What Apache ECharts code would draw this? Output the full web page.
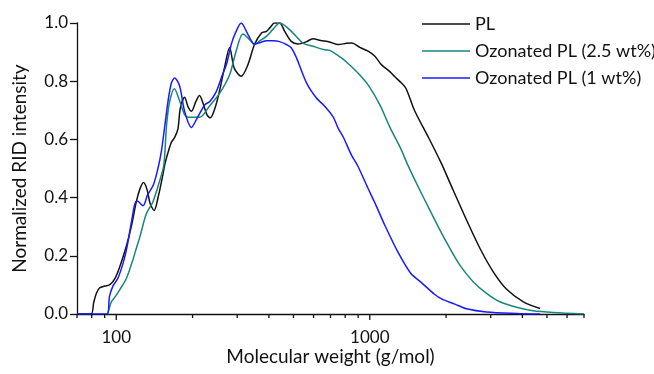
<!DOCTYPE html>
<html>
<head>
<meta charset="utf-8">
<script src="https://cdn.jsdelivr.net/npm/echarts@6/dist/echarts.min.js"></script>
<style>
  html, body { margin: 0; padding: 0; background: #ffffff; }
  #chart { width: 654px; height: 374px; }
</style>
</head>
<body>
<div id="chart"></div>
<script>
// Molecular weight distributions (RID detector), normalized to the maximum.
const plMw = [70, 79.5, 81.5, 83.5, 86, 90, 94, 98.5, 103, 109.5, 114.6, 120, 124, 128, 132, 136, 141, 147, 152, 156, 160, 165, 170, 175, 179, 186, 192, 198, 206, 213, 220, 228, 235, 245, 256, 267, 280, 292, 311, 330, 351, 374, 391, 405, 421, 441, 462, 490, 521, 560, 597, 640, 695, 750, 810, 850, 914, 985, 1050, 1111, 1200, 1256, 1330, 1390, 1500, 1690, 1910, 2132, 2408, 2719, 3070, 3467, 4034, 4700];
const plIntensity = [0, 0, 0.04, 0.071, 0.09, 0.096, 0.1, 0.12, 0.16, 0.232, 0.30, 0.386, 0.43, 0.452, 0.43, 0.38, 0.356, 0.41, 0.47, 0.52, 0.555, 0.59, 0.607, 0.635, 0.708, 0.745, 0.712, 0.697, 0.73, 0.751, 0.724, 0.684, 0.674, 0.707, 0.77, 0.845, 0.916, 0.845, 0.817, 0.855, 0.926, 0.966, 0.971, 0.985, 1.0, 1.0, 0.971, 0.937, 0.928, 0.935, 0.946, 0.94, 0.935, 0.926, 0.93, 0.931, 0.916, 0.903, 0.885, 0.857, 0.833, 0.815, 0.795, 0.775, 0.70, 0.613, 0.52, 0.426, 0.323, 0.226, 0.145, 0.085, 0.042, 0.019];

const oz25Mw = [92.5, 95.6, 97.2, 100, 103, 109.7, 116.3, 120, 124, 131.5, 139.6, 148, 154, 158, 162.5, 169.5, 178, 186, 192, 200, 213, 233, 256, 280, 297, 316, 336, 351, 370, 391, 415, 441, 483, 545, 597, 664, 695, 773, 836, 914, 1000, 1100, 1200, 1314, 1416, 1575, 1726, 1890, 2069, 2266, 2557, 2888, 3260, 3795, 4415, 5295, 7000];
const oz25Intensity = [0, 0.042, 0.05, 0.065, 0.082, 0.123, 0.186, 0.226, 0.266, 0.345, 0.386, 0.455, 0.512, 0.651, 0.731, 0.774, 0.731, 0.685, 0.676, 0.676, 0.676, 0.714, 0.759, 0.822, 0.903, 0.962, 0.943, 0.926, 0.94, 0.954, 0.978, 1.0, 0.977, 0.931, 0.92, 0.908, 0.906, 0.88, 0.855, 0.821, 0.779, 0.716, 0.642, 0.575, 0.51, 0.426, 0.357, 0.289, 0.226, 0.168, 0.111, 0.071, 0.042, 0.023, 0.011, 0.005, 0];

const oz1Mw = [70, 92, 94, 97, 101.5, 106.3, 110, 115.7, 118.5, 121, 127.5, 133, 140, 146, 150.7, 155, 160, 165, 170, 178, 186, 198, 207, 224, 234, 248, 262, 272, 285, 297, 311, 331, 351, 370, 391, 416, 441, 469, 490, 514, 563, 616, 664, 716, 750, 785, 847, 899, 984, 1050, 1145, 1289, 1450, 1599, 1800, 1919, 2167, 2408, 2888, 3795, 4700];
const oz1Intensity = [0, 0, 0.06, 0.096, 0.123, 0.174, 0.226, 0.334, 0.38, 0.388, 0.372, 0.41, 0.443, 0.5, 0.56, 0.639, 0.731, 0.794, 0.811, 0.782, 0.697, 0.641, 0.668, 0.72, 0.73, 0.764, 0.821, 0.857, 0.93, 0.971, 1.0, 0.96, 0.928, 0.933, 0.939, 0.939, 0.936, 0.926, 0.915, 0.88, 0.794, 0.742, 0.714, 0.678, 0.639, 0.609, 0.546, 0.507, 0.432, 0.38, 0.306, 0.214, 0.14, 0.108, 0.068, 0.052, 0.034, 0.018, 0.007, 0.002, 0];

const seriesNames = ['PL', 'Ozonated PL (2.5 wt%)', 'Ozonated PL (1 wt%)'];
const seriesColors = ['#111111', '#19857f', '#1a1aff'];

// x-axis tick values: decades get a label, the 2..9 multiples only a short tick
const xMajorTicks = [100, 1000];
const xMinorTicks = [70, 80, 90, 200, 300, 400, 500, 600, 700, 800, 900, 2000, 3000, 4000, 5000, 6000, 7000];

const FONT = 'Lato';
const AXIS_COLOR = '#111';
const zip = (xs, ys) => xs.map((x, i) => [x, ys[i]]);

const chart = echarts.init(document.getElementById('chart'), null, { renderer: 'canvas' });

const lineSeries = (name, data, color) => ({
  name: name,
  type: 'line',
  data: data,
  smooth: 0.3,
  symbol: 'none',
  showSymbol: false,
  lineStyle: { color: color, width: 1.5 },
  itemStyle: { color: color },
  emphasis: { disabled: true }
});

// log-axis tick marks, placed through the axis scale
const tickData = xMinorTicks.map(v => [v, 0]).concat(xMajorTicks.map(v => [v, 1]));
const tickSeries = {
  type: 'custom',
  silent: true,
  clip: false,
  z: 5,
  data: tickData,
  renderItem: (params, api) => {
    const p = api.coord([api.value(0), 0]);
    const len = api.value(1) ? 6 : 4;
    return {
      type: 'line',
      shape: { x1: p[0], y1: p[1], x2: p[0], y2: p[1] + len },
      style: { stroke: AXIS_COLOR, lineWidth: 1.3 }
    };
  }
};

chart.setOption({
  animation: false,
  backgroundColor: '#ffffff',
  grid: { left: 77, right: 70, top: 23, bottom: 60 },
  legend: {
    orient: 'vertical',
    left: 422,
    top: 15,
    padding: 0,
    icon: 'rect',
    itemWidth: 48,
    itemHeight: 1.6,
    itemGap: 9,
    textStyle: { fontFamily: FONT, fontSize: 18, color: '#111', lineHeight: 17 },
    data: seriesNames
  },
  xAxis: {
    type: 'log',
    min: 70,
    max: 7000,
    name: 'Molecular weight (g/mol)',
    nameLocation: 'middle',
    nameGap: 33,
    nameMoveOverlap: false,
    nameTextStyle: { fontFamily: FONT, fontSize: 19, color: '#111' },
    axisLine: { show: true, lineStyle: { color: AXIS_COLOR, width: 1.3 } },
    axisTick: { show: false },
    axisLabel: {
      customValues: xMajorTicks,
      margin: 15,
      fontFamily: FONT, fontSize: 17, color: '#111',
      formatter: v => String(Math.round(v))
    },
    splitLine: { show: false },
    minorTick: { show: false }
  },
  yAxis: {
    type: 'value',
    min: 0,
    max: 1,
    interval: 0.2,
    name: 'Normalized RID intensity',
    nameLocation: 'middle',
    nameGap: 48,
    nameMoveOverlap: false,
    nameTextStyle: { fontFamily: FONT, fontSize: 19, color: '#111' },
    axisLine: { show: true, lineStyle: { color: AXIS_COLOR, width: 1.3 } },
    axisTick: { show: true, length: 7, lineStyle: { color: AXIS_COLOR, width: 1.3 } },
    axisLabel: {
      margin: 9,
      fontFamily: FONT, fontSize: 17, color: '#111',
      formatter: v => v.toFixed(1)
    },
    splitLine: { show: false }
  },
  series: [
    lineSeries(seriesNames[0], zip(plMw, plIntensity), seriesColors[0]),
    lineSeries(seriesNames[1], zip(oz25Mw, oz25Intensity), seriesColors[1]),
    lineSeries(seriesNames[2], zip(oz1Mw, oz1Intensity), seriesColors[2]),
    tickSeries
  ]
});
</script>
</body>
</html>
